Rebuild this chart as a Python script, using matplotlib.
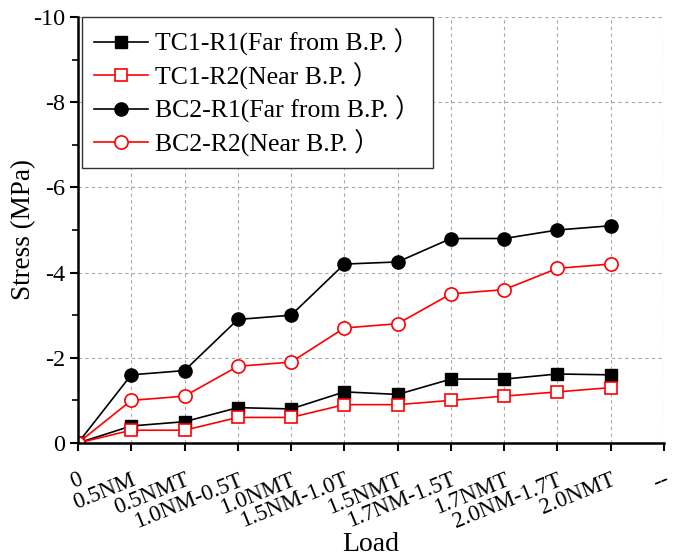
import matplotlib
matplotlib.use('Agg')
import matplotlib.pyplot as plt
import numpy as np
from matplotlib.ticker import MultipleLocator
from matplotlib.transforms import ScaledTranslation

# Times-like text, CJK font only for the full-width bracket
plt.rcParams['font.family'] = ['Liberation Serif', 'Noto Sans CJK SC']
plt.rcParams['axes.unicode_minus'] = False

# load steps (last tick is a placeholder in the original)
loads = ['0', '0.5NM', '0.5NMT', '1.0NM-0.5T', '1.0NMT', '1.5NM-1.0T', '1.5NMT',
         '1.7NM-1.5T', '1.7NMT', '2.0NM-1.7T', '2.0NMT', '--']
# stress (MPa)
tc1_r1 = [0, -0.4, -0.5, -0.83, -0.8, -1.2, -1.14, -1.5, -1.5, -1.62, -1.6]
tc1_r2 = [0, -0.3, -0.3, -0.6, -0.6, -0.9, -0.9, -1.0, -1.1, -1.2, -1.3]
bc2_r1 = [0, -1.6, -1.7, -2.9, -3.0, -4.2, -4.25, -4.8, -4.8, -5.0, -5.1]
bc2_r2 = [0, -1.0, -1.1, -1.8, -1.9, -2.7, -2.8, -3.5, -3.6, -4.1, -4.2]
labels = ['TC1-R1(Far from B.P. ）', 'TC1-R2(Near B.P. ）',
          'BC2-R1(Far from B.P. ）', 'BC2-R2(Near B.P. ）']

x = np.arange(len(tc1_r1))

fig = plt.figure(figsize=(6.83, 5.58), dpi=100)
ax = fig.add_axes([78/683, 1-443/558, (664-78)/683, (443-17)/558])

ax.plot(x, tc1_r1, color='k', lw=1.2, marker='s', ms=8, mfc='k', mec='k', label=labels[0])
ax.plot(x, tc1_r2, color='red', lw=1.2, marker='s', ms=8, mfc='white', mec='red', mew=1.2, label=labels[1])
ax.plot(x, bc2_r1, color='k', lw=1.2, marker='o', ms=9.5, mfc='k', mec='k', label=labels[2])
ax.plot(x, bc2_r2, color='red', lw=1.2, marker='o', ms=9.5, mfc='white', mec='red', mew=1.2, label=labels[3])

ax.set_xlim(0, len(loads)-1)
ax.set_ylim(0, -10)
ax.set_xticks(np.arange(len(loads)))
ax.set_xticklabels(loads, rotation=22, ha='right', va='top', rotation_mode='anchor', fontsize=16.5)
shift = ScaledTranslation(0.06, 0, fig.dpi_scale_trans)
for lab in ax.get_xticklabels():
    lab.set_transform(lab.get_transform() + shift)
ax.yaxis.set_major_locator(MultipleLocator(2))
ax.yaxis.set_minor_locator(MultipleLocator(1))
ax.tick_params(axis='y', labelsize=17.5, pad=3)
ax.tick_params(which='major', direction='out', length=6, width=1.5)
ax.tick_params(which='minor', direction='out', length=4, width=1.2)
ax.tick_params(axis='x', pad=13)

for s in ['top', 'right']:
    ax.spines[s].set_visible(False)
for s in ['left', 'bottom']:
    ax.spines[s].set_linewidth(1.8)

ax.grid(True, which='major', ls=(0, (3, 3)), color='#a8a8a8', lw=0.8)
ax.set_axisbelow(True)

ax.set_xlabel('Load', fontsize=20)
ax.xaxis.set_label_coords(0.5, -0.21)
ax.set_ylabel('Stress (MPa)', fontsize=19.5)
ax.yaxis.set_label_coords(-0.072, 0.5)

leg = ax.legend(loc='upper left', bbox_to_anchor=(0.007, 1.0), fontsize=18.5,
                fancybox=False, framealpha=1, edgecolor='#333333',
                handlelength=2.1, labelspacing=0.24, borderpad=0.45,
                handletextpad=0.3, borderaxespad=0)
leg.get_frame().set_linewidth(1.0)

fig.savefig('out.png', dpi=100)
